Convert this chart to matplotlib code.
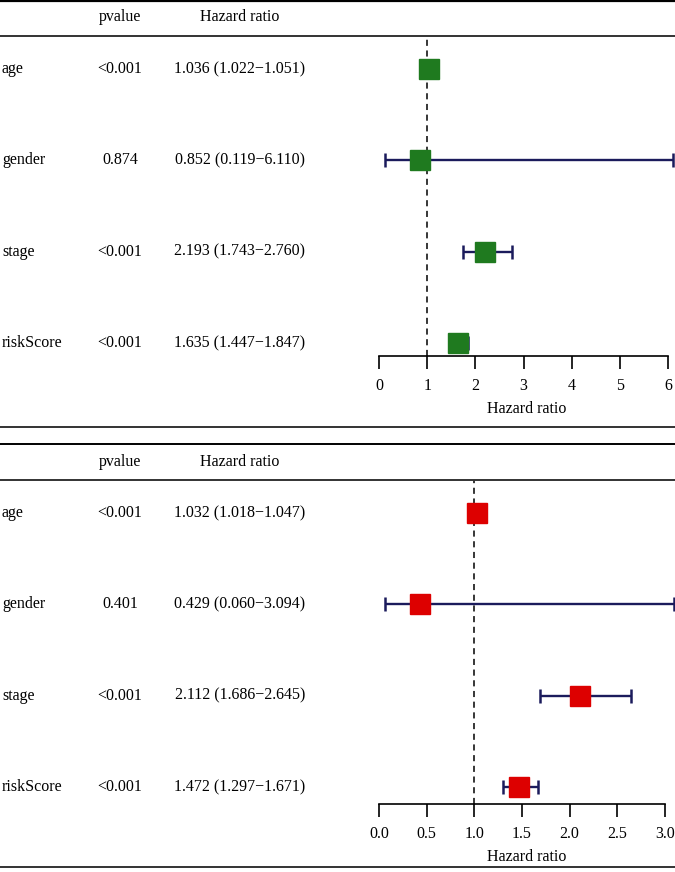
import matplotlib
matplotlib.use("Agg")
import matplotlib.pyplot as plt
from matplotlib.lines import Line2D
from matplotlib.transforms import blended_transform_factory


# ==========================================================
# DATOS
# ==========================================================

variables = ["age", "gender", "stage", "riskScore"]

# modelo univariado (panel superior)
pvalores_uni = ["<0.001", "0.874", "<0.001", "<0.001"]
hr_uni = [1.036, 0.852, 2.193, 1.635]
hr_bajo_uni = [1.022, 0.119, 1.743, 1.447]
hr_alto_uni = [1.051, 6.110, 2.760, 1.847]
ticks_uni = [0, 1, 2, 3, 4, 5, 6]
etiquetas_uni = ["0", "1", "2", "3", "4", "5", "6"]

# modelo multivariado (panel inferior)
pvalores_multi = ["<0.001", "0.401", "<0.001", "<0.001"]
hr_multi = [1.032, 0.429, 2.112, 1.472]
hr_bajo_multi = [1.018, 0.060, 1.686, 1.297]
hr_alto_multi = [1.047, 3.094, 2.645, 1.671]
ticks_multi = [0.0, 0.5, 1.0, 1.5, 2.0, 2.5, 3.0]
etiquetas_multi = ["0.0", "0.5", "1.0", "1.5", "2.0", "2.5", "3.0"]


# ==========================================================
# CONFIGURACION
# ==========================================================

ANCHO = 675
ALTO = 872
DPI = 100

plt.rcParams["font.family"] = ["Liberation Serif", "DejaVu Serif"]
plt.rcParams["font.size"] = 11.5

AZUL = "#1b1b5c"
TAM = 11.5


def fy(py):
    # pixel desde arriba -> coordenada de figura
    return 1 - py / ALTO


def fx(px):
    return px / ANCHO


def linea_h(fig, py, lw=1.4, color="#333333"):
    fig.add_artist(Line2D([0, 1], [fy(py), fy(py)],
                          transform=fig.transFigure,
                          color=color, linewidth=lw))


##############################################
# Dibujar un panel del forest plot
##############################################
def panel(fig, y_head, y_top, y_axis, hr, bajo, alto, pvals,
          color, ticks, etiquetas, xmax_px_unit):

    fila0 = y_top + 33
    paso = 91.3

    izq = 379
    ax = fig.add_axes([fx(izq), fy(y_axis),
                       fx(ANCHO - izq), (y_axis - y_top) / ALTO])

    ax.set_xlim(0, (ANCHO - izq) / xmax_px_unit)
    ax.set_ylim((y_axis - fila0) / paso, (y_top - fila0) / paso)

    n = len(hr)
    filas = list(range(n))

    ax.axvline(1, color="black", linewidth=1.1,
               linestyle=(0, (4, 3)), zorder=1)

    for i in filas:
        ax.errorbar(hr[i], i,
                    xerr=[[hr[i] - bajo[i]], [alto[i] - hr[i]]],
                    fmt="none", ecolor=AZUL, elinewidth=1.7,
                    capsize=4.7, capthick=1.8, zorder=2,
                    clip_on=False)
        ax.plot(hr[i], i, marker="s", markersize=13.8,
                color=color, linestyle="none", zorder=3)

    # eje x
    for lado in ["top", "left", "right"]:
        ax.spines[lado].set_visible(False)
    ax.spines["bottom"].set_bounds(ticks[0], ticks[-1])
    ax.spines["bottom"].set_linewidth(1.2)
    ax.set_yticks([])
    ax.set_xticks(ticks)
    ax.set_xticklabels(etiquetas)
    ax.tick_params(axis="x", length=9, width=1.2, pad=7, labelsize=TAM)
    ax.set_xlabel("Hazard ratio", fontsize=TAM, labelpad=5)
    ax.patch.set_visible(False)

    # columnas de texto
    tr = blended_transform_factory(fig.transFigure, ax.transData)
    for i in filas:
        texto_hr = "%.3f (%.3f\u2212%.3f)" % (hr[i], bajo[i], alto[i])
        ax.text(fx(2), i, variables[i], transform=tr,
                ha="left", va="center", fontsize=TAM)
        ax.text(fx(120), i, pvals[i], transform=tr,
                ha="center", va="center", fontsize=TAM)
        ax.text(fx(240), i, texto_hr, transform=tr,
                ha="center", va="center", fontsize=TAM)

    fig.text(fx(120), fy(y_head), "pvalue",
             ha="center", va="center", fontsize=TAM)
    fig.text(fx(240), fy(y_head), "Hazard ratio",
             ha="center", va="center", fontsize=TAM)

    return ax


# ==========================================================
# FIGURA
# ==========================================================

def main():

    fig = plt.figure(figsize=(ANCHO / DPI, ALTO / DPI), dpi=DPI)

    # lineas horizontales de las tablas
    linea_h(fig, 0.8, lw=1.6, color="black")
    linea_h(fig, 36)
    linea_h(fig, 427)
    linea_h(fig, 444, color="black")
    linea_h(fig, 480)
    linea_h(fig, 867)

    panel(fig, 17, 36, 356, hr_uni, hr_bajo_uni, hr_alto_uni,
          pvalores_uni, "#1f7a1f", ticks_uni, etiquetas_uni, 48.17)

    panel(fig, 462, 480, 804, hr_multi, hr_bajo_multi, hr_alto_multi,
          pvalores_multi, "#dd0000", ticks_multi, etiquetas_multi, 95.33)

    fig.savefig("out.png", dpi=DPI)


if __name__ == "__main__":

    main()
